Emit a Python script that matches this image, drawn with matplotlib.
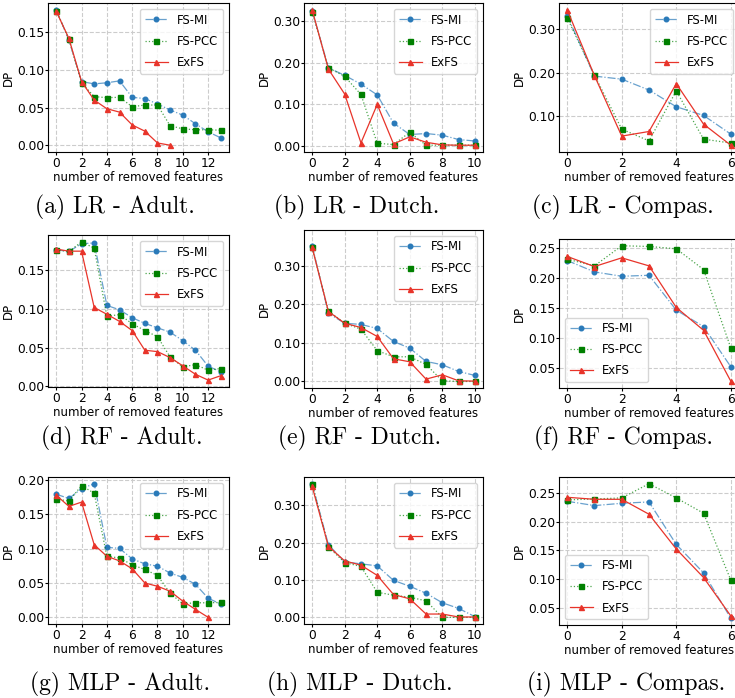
import matplotlib
matplotlib.use("Agg")
import matplotlib.pyplot as plt
from matplotlib.ticker import MultipleLocator, FormatStrFormatter

W, H = 735, 698

# ---- data ----
adult_x = list(range(14))
dutch_x = list(range(11))
compas_x = list(range(7))

# LR
lr_adult_mi = [0.180, 0.140, 0.0846, 0.0815, 0.083, 0.0855, 0.0637, 0.062, 0.0548, 0.0468, 0.040, 0.0285, 0.0178, 0.0098]
lr_adult_pcc = [0.179, 0.141, 0.083, 0.0646, 0.0632, 0.0637, 0.0512, 0.0534, 0.0534, 0.0258, 0.0218, 0.0205, 0.0205, 0.020]
lr_adult_exfs = [0.178, 0.142, 0.0846, 0.060, 0.0485, 0.044, 0.027, 0.0187, 0.003, 0.0]

lr_dutch_mi = [0.325, 0.1875, 0.169, 0.148, 0.122, 0.054, 0.0265, 0.029, 0.025, 0.0145, 0.011]
lr_dutch_pcc = [0.322, 0.1875, 0.1665, 0.123, 0.0056, 0.0024, 0.032, 0.0008, 0.001, 0.001, 0.001]
lr_dutch_exfs = [0.327, 0.184, 0.124, 0.0064, 0.099, 0.004, 0.021, 0.008, 0.0016, 0.0008, 0.0008]

lr_compas_mi = [0.331, 0.192, 0.185, 0.160, 0.1215, 0.1015, 0.0585]
lr_compas_pcc = [0.326, 0.1946, 0.070, 0.043, 0.158, 0.047, 0.038]
lr_compas_exfs = [0.3446, 0.193, 0.054, 0.0646, 0.1746, 0.0815, 0.033]

# RF
rf_adult_mi = [0.1768, 0.1746, 0.1847, 0.1856, 0.1047, 0.099, 0.0888, 0.0814, 0.0756, 0.070, 0.059, 0.0466, 0.026, 0.0185]
rf_adult_pcc = [0.1768, 0.1746, 0.187, 0.179, 0.0906, 0.0928, 0.081, 0.0721, 0.0642, 0.0378, 0.025, 0.028, 0.0207, 0.0229]
rf_adult_exfs = [0.1777, 0.175, 0.175, 0.102, 0.0932, 0.084, 0.0721, 0.0466, 0.0448, 0.037, 0.0264, 0.0154, 0.0079, 0.0136]

rf_dutch_mi = [0.3526, 0.177, 0.151, 0.148, 0.1374, 0.1037, 0.0864, 0.052, 0.0432, 0.026, 0.0156]
rf_dutch_pcc = [0.348, 0.183, 0.151, 0.1357, 0.080, 0.064, 0.064, 0.044, 0.0017, 0.0, 0.0]
rf_dutch_exfs = [0.348, 0.1815, 0.151, 0.140, 0.1167, 0.0588, 0.051, 0.006, 0.0173, 0.0017, 0.0009]

rf_compas_mi = [0.2289, 0.210, 0.2028, 0.2044, 0.1467, 0.1194, 0.0528]
rf_compas_pcc = [0.2311, 0.220, 0.2533, 0.2522, 0.2483, 0.2139, 0.0839]
rf_compas_exfs = [0.2356, 0.2189, 0.2333, 0.220, 0.1511, 0.1133, 0.0289]

# MLP
mlp_adult_mi = [0.1789, 0.1727, 0.187, 0.1942, 0.1017, 0.1002, 0.0849, 0.0777, 0.0743, 0.0643, 0.058, 0.048, 0.0278, 0.0192]
mlp_adult_pcc = [0.1722, 0.1688, 0.1914, 0.1803, 0.0887, 0.0863, 0.0763, 0.0695, 0.0609, 0.035, 0.0197, 0.0211, 0.0211, 0.0216]
mlp_adult_exfs = [0.1775, 0.1612, 0.1674, 0.1055, 0.0887, 0.082, 0.0705, 0.0499, 0.0451, 0.0379, 0.0235, 0.0115, 0.0]

mlp_dutch_mi = [0.3584, 0.1947, 0.1487, 0.1434, 0.138, 0.0991, 0.0832, 0.0646, 0.039, 0.0239, 0.0018]
mlp_dutch_pcc = [0.3584, 0.1885, 0.1469, 0.1363, 0.0673, 0.0593, 0.054, 0.0442, 0.0, 0.0, 0.0]
mlp_dutch_exfs = [0.3513, 0.1903, 0.1513, 0.1398, 0.1124, 0.0611, 0.0496, 0.0088, 0.0088, 0.0009, 0.0009]

mlp_compas_mi = [0.2351, 0.2276, 0.2316, 0.2339, 0.1603, 0.1109, 0.0322]
mlp_compas_pcc = [0.2374, 0.2391, 0.2409, 0.2655, 0.2409, 0.2144, 0.0983]
mlp_compas_exfs = [0.242, 0.2385, 0.2385, 0.2126, 0.1523, 0.1029, 0.0362]

captions = ["(a) LR - Adult.", "(b) LR - Dutch.", "(c) LR - Compas.",
            "(d) RF - Adult.", "(e) RF - Dutch.", "(f) RF - Compas.",
            "(g) MLP - Adult.", "(h) MLP - Dutch.", "(i) MLP - Compas."]

panels = [
    (adult_x, lr_adult_mi, lr_adult_pcc, lr_adult_exfs),
    (dutch_x, lr_dutch_mi, lr_dutch_pcc, lr_dutch_exfs),
    (compas_x, lr_compas_mi, lr_compas_pcc, lr_compas_exfs),
    (adult_x, rf_adult_mi, rf_adult_pcc, rf_adult_exfs),
    (dutch_x, rf_dutch_mi, rf_dutch_pcc, rf_dutch_exfs),
    (compas_x, rf_compas_mi, rf_compas_pcc, rf_compas_exfs),
    (adult_x, mlp_adult_mi, mlp_adult_pcc, mlp_adult_exfs),
    (dutch_x, mlp_dutch_mi, mlp_dutch_pcc, mlp_dutch_exfs),
    (compas_x, mlp_compas_mi, mlp_compas_pcc, mlp_compas_exfs),
]

# axes boxes in pixels: left, top, right, bottom
boxes = [
    (48, 3, 229, 152), (304, 3, 483, 152), (559, 3, 739, 152),
    (48, 235, 229, 387), (304, 230, 483, 388), (559, 239, 739, 388),
    (48, 477, 229, 624), (304, 477, 483, 624), (559, 477, 739, 625),
]
ystep = [0.05, 0.1, 0.1, 0.05, 0.1, 0.05, 0.05, 0.1, 0.05]
leg_loc = ["upper right"] * 5 + ["lower left"] + ["upper right"] * 2 + ["lower left"]
cap_pos = [(115, 207), (357, 207), (623, 207),
           (122, 438), (360, 438), (623, 438),
           (120, 684), (360, 684), (626, 684)]

blue = (0.165, 0.478, 0.725)
green = (0.0, 0.5, 0.0)
red = "#e8342a"

fs = 8.8
fig = plt.figure(figsize=(W / 100, H / 100), dpi=100)

for i, (xs, mi, pcc, exfs) in enumerate(panels):
    l, t, r, b = boxes[i]
    ax = fig.add_axes([l / W, 1 - b / H, (r - l) / W, (b - t) / H])
    # lighter line, solid marker
    ax.plot(xs[:len(mi)], mi, color=blue + (0.7,), linestyle="-.", marker="o",
            markerfacecolor=blue, markeredgecolor=blue,
            markersize=3.3, linewidth=0.9, label="FS-MI")
    ax.plot(xs[:len(pcc)], pcc, color=green + (0.7,), linestyle=":", marker="s",
            markerfacecolor=green, markeredgecolor=green,
            markersize=3.6, linewidth=0.9, label="FS-PCC")
    ax.plot(xs[:len(exfs)], exfs, color=red, linestyle="-", marker="^",
            markersize=3.6, linewidth=0.9, label="ExFS")
    if i == 4:
        ax.set_ylim(-0.017, 0.393)
    ax.yaxis.set_major_locator(MultipleLocator(ystep[i]))
    ax.yaxis.set_major_formatter(FormatStrFormatter("%.2f"))
    ax.xaxis.set_major_locator(MultipleLocator(2))
    ax.grid(True, linestyle="--", color="#cccccc", linewidth=0.8)
    ax.set_axisbelow(True)
    ax.tick_params(axis="x", labelsize=fs, length=2, pad=1.5)
    ax.tick_params(axis="y", labelsize=fs, length=2, pad=0.5)
    ax.set_xlabel("number of removed features", fontsize=8.5, labelpad=0.5)
    ax.set_ylabel("DP", fontsize=8.5)
    ax.yaxis.set_label_coords(-33 / (r - l), 0.5)
    ax.legend(loc=leg_loc[i], fontsize=8.4, labelspacing=0.7)
    cx, cy = cap_pos[i]
    fig.text(cx / W, 1 - cy / H, captions[i], family="cmr10", fontsize=17,
             ha="center", va="center")

fig.savefig("out.png", dpi=100)
